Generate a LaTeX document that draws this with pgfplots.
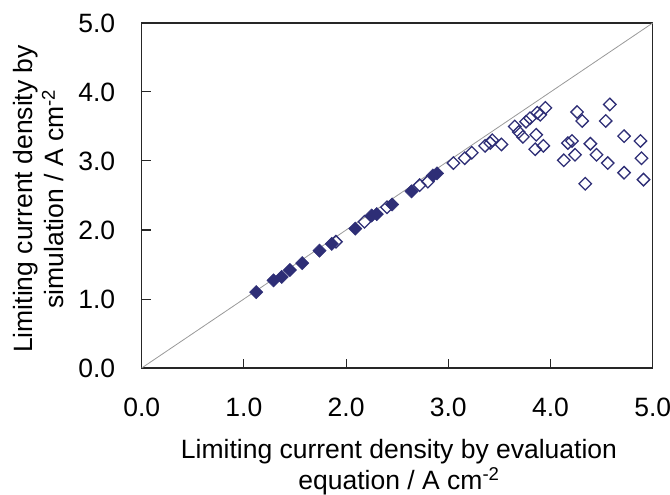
\documentclass[border=0pt]{standalone}
\usepackage{pgfplots}
\pgfplotsset{compat=1.18}
\usepackage{fontspec}
\setmainfont{Liberation Sans}
\definecolor{navy}{RGB}{46,46,118}
\begin{document}
\pgfplotstableread{
x y
1.12 1.10
1.29 1.27
1.37 1.32
1.45 1.42
1.57 1.52
1.74 1.70
1.86 1.80
2.09 2.02
2.25 2.21
2.30 2.23
2.45 2.37
2.64 2.56
2.85 2.79
2.89 2.82
}\filled
\pgfplotstableread{
x y
1.90 1.83
2.18 2.12
2.40 2.33
2.72 2.65
2.80 2.70
3.05 2.97
3.16 3.04
3.23 3.12
3.36 3.22
3.41 3.26
3.43 3.30
3.52 3.24
3.65 3.50
3.69 3.42
3.73 3.35
3.76 3.57
3.80 3.62
3.86 3.38
3.85 3.17
3.93 3.22
3.87 3.70
3.90 3.67
3.95 3.77
4.13 3.01
4.17 3.26
4.21 3.29
4.24 3.09
4.26 3.71
4.31 3.58
4.34 2.67
4.39 3.25
4.45 3.09
4.54 3.58
4.56 2.97
4.58 3.82
4.72 3.36
4.72 2.83
4.88 3.29
4.89 3.04
4.91 2.73
}\opened
\begin{tikzpicture}
\begin{axis}[
  name=ax,
  scale only axis,
  width=511pt, height=345pt,
  xmin=0, xmax=5, ymin=0, ymax=5,
  xtick={0,1,2,3,4,5}, ytick={0,1,2,3,4,5},
  tick align=inside, major tick length=9pt,
  xtick pos=lower, ytick pos=left,
  axis line style={line width=1.5pt, black!85},
  tick style={line width=1pt, black!85},
  /pgf/number format/fixed,
  /pgf/number format/fixed zerofill,
  /pgf/number format/precision=1,
  /pgf/number format/assume math mode=true,
  font=\fontsize{26.5}{31}\selectfont,
  xticklabel style={yshift=-26pt},
  yticklabel style={xshift=-23pt},
  xlabel={Limiting current density by evaluation\\equation / A cm\textsuperscript{-2}},
  ylabel={Limiting current density by\\simulation / A cm\textsuperscript{-2}},
  xlabel style={align=center, at={(axis description cs:0.5035,-0.287)}, anchor=center},
  ylabel style={align=center, at={(axis description cs:-0.201,0.49)}, anchor=center},
  clip=false,
]
\addplot[gray!80, line width=0.8pt, forget plot] coordinates {(0,0) (5,5)};
\addplot[only marks, mark=square*, mark size=4.7pt, mark options={rotate=45, fill=navy, draw=navy, line width=0.5pt}] table[x=x,y=y] {\filled};
\addplot[only marks, mark=square, mark size=4.4pt, mark options={rotate=45, draw=navy, line width=1.3pt, fill=white}] table[x=x,y=y] {\opened};
\end{axis}
\pgfresetboundingbox
\path (ax.south west) ++(-141.7pt,-126pt) coordinate (bl);
\path (ax.north east) ++(17.3pt,23pt) coordinate (tr);
\useasboundingbox (bl) rectangle (tr);
\end{tikzpicture}
\end{document}
